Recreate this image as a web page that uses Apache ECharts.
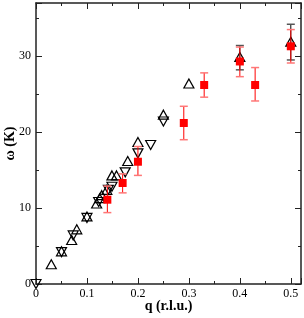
<!DOCTYPE html>
<html><head><meta charset="utf-8">
<script src="https://cdn.jsdelivr.net/npm/echarts@6/dist/echarts.min.js"></script>
<style>html,body{margin:0;padding:0;background:#fff}#c{width:304px;height:318px}</style>
</head><body><div id="c"></div>
<script>
// Up triangles (open, black)
var upQ = [0.03, 0.05, 0.07, 0.08, 0.10, 0.119, 0.125, 0.129, 0.139, 0.149, 0.158, 0.18, 0.20, 0.25, 0.30, 0.40, 0.50];
var upW = [2.6, 4.3, 5.8, 7.2, 8.9, 10.6, 11.3, 11.7, 12.4, 14.3, 14.3, 16.2, 18.7, 22.3, 26.4, 29.9, 31.9];
// Down triangles (open, black)
var downQ = [0.0, 0.05, 0.073, 0.10, 0.123, 0.142, 0.149, 0.175, 0.20, 0.225, 0.25];
var downW = [0.0, 4.2, 6.4, 8.7, 10.8, 12.4, 12.8, 14.7, 17.2, 18.3, 21.4];
// Black error bars on up triangles
var upErrQ = [0.40, 0.50];
var upErrLo = [28.2, 29.5];
var upErrHi = [31.4, 34.2];
// Red squares with error bars
var redQ = [0.14, 0.17, 0.20, 0.29, 0.33, 0.40, 0.43, 0.50];
var redW = [11.1, 13.3, 16.1, 21.2, 26.2, 29.3, 26.2, 31.3];
var redLo = [9.4, 12.0, 14.3, 19.0, 24.6, 27.3, 24.1, 29.1];
var redHi = [12.9, 14.5, 18.1, 23.4, 27.8, 31.2, 28.5, 33.5];
var xTicks = [0, 0.1, 0.2, 0.3, 0.4, 0.5];
var yTicks = [0, 10, 20, 30];

var serif = "'Liberation Serif','Times New Roman',serif";
function pairs(a, b) { return a.map(function (v, i) { return [v, b[i]]; }); }
function errData(q, lo, hi) { return q.map(function (v, i) { return [v, lo[i], hi[i]]; }); }
function errRender(lineColor, capColor) {
  return function (params, api) {
    var lo = api.coord([api.value(0), api.value(1)]);
    var hi = api.coord([api.value(0), api.value(2)]);
    var hw = 4;
    return { type: 'group', children: [
      { type: 'line', shape: { x1: lo[0], y1: lo[1], x2: hi[0], y2: hi[1] }, style: { stroke: lineColor, lineWidth: 1 } },
      { type: 'line', shape: { x1: lo[0] - hw, y1: lo[1], x2: lo[0] + hw, y2: lo[1] }, style: { stroke: capColor, lineWidth: 1.5 } },
      { type: 'line', shape: { x1: hi[0] - hw, y1: hi[1], x2: hi[0] + hw, y2: hi[1] }, style: { stroke: capColor, lineWidth: 1.5 } }
    ] };
  };
}
var axisLine = { show: true, onZero: false, lineStyle: { color: '#222', width: 1.5 } };
var tick = { show: true, inside: true, length: 6, lineStyle: { color: '#222', width: 1 } };
var minor = { show: true, splitNumber: 2, length: 3, lineStyle: { color: '#222', width: 1 } };
function xfmt(v) { var r = Math.round(v * 10) / 10; return Math.abs(v - r) < 1e-6 && xTicks.indexOf(r) >= 0 ? String(r) : ''; }
function yfmt(v) { return yTicks.indexOf(v) >= 0 ? String(v) : ''; }

var chart = echarts.init(document.getElementById('c'), null, { renderer: 'canvas' });
chart.setOption({
  animation: false,
  backgroundColor: '#fff',
  grid: { left: 36, right: 3, top: 3, bottom: 34, containLabel: false, outerBoundsMode: 'none' },
  xAxis: [
    { type: 'value', min: 0, max: 0.52, interval: 0.1, position: 'bottom',
      axisLine: axisLine, axisTick: tick, minorTick: minor, splitLine: { show: false },
      axisLabel: { formatter: xfmt, showMaxLabel: false, hideOverlap: false, fontFamily: serif, fontSize: 12, color: '#000', margin: 4 },
      name: 'q (r.l.u.)', nameLocation: 'middle', nameGap: 15, nameMoveOverlap: false,
      nameTextStyle: { fontFamily: serif, fontWeight: 'bold', fontSize: 14, color: '#000' } },
    { type: 'value', min: 0, max: 0.52, interval: 0.1, position: 'top',
      axisLine: axisLine, axisTick: tick, minorTick: minor, splitLine: { show: false },
      axisLabel: { show: false } }
  ],
  yAxis: [
    { type: 'value', min: 0, max: 37, interval: 10, position: 'left',
      axisLine: axisLine, axisTick: tick, minorTick: minor, splitLine: { show: false },
      axisLabel: { formatter: yfmt, showMaxLabel: false, hideOverlap: false, fontFamily: serif, fontSize: 12, color: '#000', margin: 5 },
      name: 'ω (K)', nameLocation: 'middle', nameGap: 19, nameMoveOverlap: false,
      nameTextStyle: { fontFamily: serif, fontWeight: 'bold', fontSize: 14, color: '#000' } },
    { type: 'value', min: 0, max: 37, interval: 10, position: 'right',
      axisLine: axisLine, axisTick: tick, minorTick: minor, splitLine: { show: false },
      axisLabel: { show: false } }
  ],
  series: [
    { type: 'custom', renderItem: errRender('#000', '#555'), data: errData(upErrQ, upErrLo, upErrHi), z: 2, encode: { x: 0, y: [1, 2] } },
    { type: 'scatter', data: pairs(upQ, upW), symbol: 'triangle', symbolSize: [10, 9],
      itemStyle: { color: 'rgba(0,0,0,0)', borderColor: '#000', borderWidth: 1.2, opacity: 1 }, z: 3 },
    { type: 'scatter', data: pairs(downQ, downW), symbol: 'triangle', symbolRotate: 180, symbolSize: [10, 9],
      itemStyle: { color: 'rgba(0,0,0,0)', borderColor: '#000', borderWidth: 1.2, opacity: 1 }, z: 3 },
    { type: 'custom', renderItem: errRender('#f00', '#f77'), data: errData(redQ, redLo, redHi), z: 4, encode: { x: 0, y: [1, 2] } },
    { type: 'scatter', data: pairs(redQ, redW), symbol: 'rect', symbolSize: 8,
      itemStyle: { color: '#f00', opacity: 1 }, z: 5 }
  ]
});
</script></body></html>
